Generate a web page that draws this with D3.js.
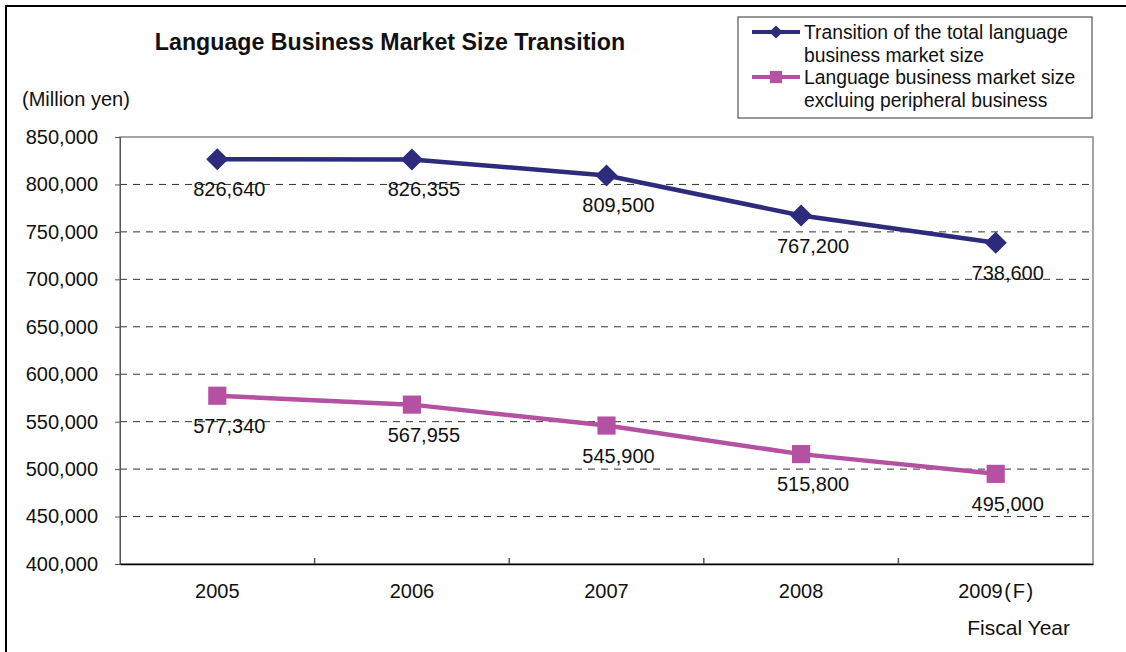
<!DOCTYPE html>
<html>
<head>
<meta charset="utf-8">
<script src="https://cdn.jsdelivr.net/npm/d3@7"></script>
<style>
  body { margin: 0; background: #fff; }
  text { font-family: Arial, "Liberation Sans", sans-serif; fill: #111; }
</style>
</head>
<body>
<div id="graph"></div>
<script>
var width = 1126, height = 652

var years = ['2005', '2006', '2007', '2008', '2009(F)']
var totalMarket = [826640, 826355, 809500, 767200, 738600]
var coreMarket = [577340, 567955, 545900, 515800, 495000]
var yTicks = [400000, 450000, 500000, 550000, 600000, 650000, 700000, 750000, 800000, 850000]
var seriesNames = [
  ['Transition of the total language', 'business market size'],
  ['Language business market size', 'excluing peripheral business']
]

var navy = '#2c2b7c', pink = '#b551a2'
var m = {left: 120, right: 1093, top: 137, bottom: 564}
var fmt = d3.format(',')
var fs = '20px'

var svg = d3.select('#graph').append('svg')
    .attr('width', width).attr('height', height)

// outer frame
svg.append('path')
    .attr('d', 'M6,' + height + 'V6H' + width)
    .attr('fill', 'none').attr('stroke', '#000').attr('stroke-width', 2)

var x = d3.scaleBand().domain(years).range([m.left, m.right])
var y = d3.scaleLinear().domain([400000, 850000]).range([m.bottom, m.top])

// gridlines
svg.append('g').selectAll('line')
    .data(yTicks.filter(function(d){ return d > 400000 && d < 850000 }))
  .join('line')
    .attr('x1', m.left).attr('x2', m.right)
    .attr('y1', function(d){ return y(d) }).attr('y2', function(d){ return y(d) })
    .attr('stroke', '#333').attr('stroke-dasharray', '7,6').attr('stroke-width', 1)

// plot frame
svg.append('rect')
    .attr('x', m.left).attr('y', m.top)
    .attr('width', m.right - m.left).attr('height', m.bottom - m.top)
    .attr('fill', 'none').attr('stroke', '#888').attr('stroke-width', 1.5)

// y axis
var yAxis = svg.append('g')
    .attr('transform', 'translate(' + m.left + ',0)')
    .call(d3.axisLeft(y).tickValues(yTicks).tickFormat(fmt).tickSize(5).tickPadding(17))
yAxis.select('.domain').attr('stroke', '#555')
yAxis.selectAll('.tick line').attr('stroke', '#555')
yAxis.selectAll('text').style('font-size', fs).attr('fill', '#111')
    .attr('font-family', 'Arial, "Liberation Sans", sans-serif')

// x axis (hair spaces around the parentheses, as in the original)
var xAxis = svg.append('g')
    .attr('transform', 'translate(0,' + m.bottom + ')')
    .call(d3.axisBottom(x).tickSize(0).tickPadding(20)
      .tickFormat(function(d){ return d.replace('(', '\u200A(\u200A').replace(')', '\u200A)') }))
xAxis.select('.domain').attr('stroke', '#000').attr('stroke-width', 1.5)
xAxis.selectAll('text').style('font-size', fs).attr('fill', '#111')
    .attr('font-family', 'Arial, "Liberation Sans", sans-serif')
svg.append('g').selectAll('line')
    .data(years.slice(1))
  .join('line')
    .attr('x1', function(d){ return x(d) }).attr('x2', function(d){ return x(d) })
    .attr('y1', m.bottom).attr('y2', m.bottom - 6)
    .attr('stroke', '#555').attr('stroke-width', 1.5)

// title and axis captions
svg.append('text').attr('x', 390).attr('y', 50).attr('text-anchor', 'middle')
    .style('font-size', '23.2px').style('font-weight', 'bold')
    .text('Language Business Market Size Transition')
svg.append('text').attr('x', 22).attr('y', 106)
    .style('font-size', fs).text('(Million yen)')
svg.append('text').attr('x', 1070).attr('y', 635).attr('text-anchor', 'end')
    .style('font-size', '21px').text('Fiscal Year')

var line = d3.line()
    .x(function(d, i){ return x(years[i]) + x.bandwidth() / 2 })
    .y(function(d){ return y(d) })

var series = [
  {values: totalMarket, color: navy, symbol: d3.symbolDiamond, size: 140, sx: 1.75, legendSize: 50},
  {values: coreMarket, color: pink, symbol: d3.symbolSquare, size: 330, sx: 1, legendSize: 150}
]

series.forEach(function(s){
  svg.append('path').datum(s.values)
      .attr('d', line).attr('fill', 'none')
      .attr('stroke', s.color).attr('stroke-width', 4.5)
  svg.append('g').selectAll('path')
      .data(s.values)
    .join('path')
      .attr('d', d3.symbol().type(s.symbol).size(s.size))
      .attr('transform', function(d, i){
        return 'translate(' + (x(years[i]) + x.bandwidth() / 2) + ',' + y(d) + ') scale(' + s.sx + ',1)'
      })
      .attr('fill', s.color)
  svg.append('g').selectAll('text')
      .data(s.values)
    .join('text')
      .attr('x', function(d, i){ return x(years[i]) + x.bandwidth() / 2 + 12 })
      .attr('y', function(d){ return y(d) + 37 })
      .attr('text-anchor', 'middle')
      .style('font-size', fs)
      .text(fmt)
})

// legend
var lg = svg.append('g')
lg.append('rect').attr('x', 738).attr('y', 17).attr('width', 354).attr('height', 101)
    .attr('fill', '#fff').attr('stroke', '#333').attr('stroke-width', 1)
series.forEach(function(s, i){
  var ly = 32 + i * 45
  lg.append('line').attr('x1', 752).attr('x2', 800).attr('y1', ly).attr('y2', ly)
      .attr('stroke', s.color).attr('stroke-width', 4)
  lg.append('path')
      .attr('d', d3.symbol().type(s.symbol).size(s.legendSize))
      .attr('transform', 'translate(776,' + ly + ') scale(' + s.sx + ',1)')
      .attr('fill', s.color)
  seriesNames[i].forEach(function(t, j){
    lg.append('text').attr('x', 804).attr('y', ly + 7 + j * 23)
        .style('font-size', '19.3px').text(t)
  })
})
</script>
</body>
</html>
